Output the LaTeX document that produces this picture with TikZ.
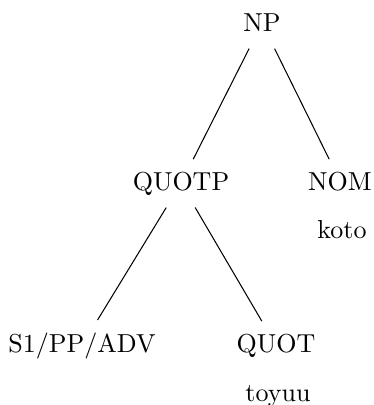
\documentclass[tikz,border=0pt]{standalone}
\usepackage{tikz}
\usetikzlibrary{positioning}

\begin{document}
\begin{tikzpicture}[
  x=0.3846pt,y=-0.3846pt,
  cat/.style={inner sep=4.6pt,anchor=base},
  word/.style={inner sep=1pt,anchor=base},
  branch/.style={line width=0.4pt}
]
\useasboundingbox (0,0) rectangle (373,405);
\node[cat,inner sep=6.2pt] (np) at (262,32) {NP};
\node[cat] (quotp) at (181,190) {QUOTP};
\node[cat] (nom) at (340,190) {NOM};
\node[word] (koto) at (342,238) {koto};
\node[cat] (s1) at (82,352) {S1/PP/ADV};
\node[cat] (quot) at (276,352) {QUOT};
\node[word] (toyuu) at (278,401) {toyuu};
\draw[branch] (np)--(quotp);
\draw[branch] (np)--(nom);
\draw[branch] (quotp)--(s1);
\draw[branch] (quotp)--(quot);
\end{tikzpicture}
\end{document}
